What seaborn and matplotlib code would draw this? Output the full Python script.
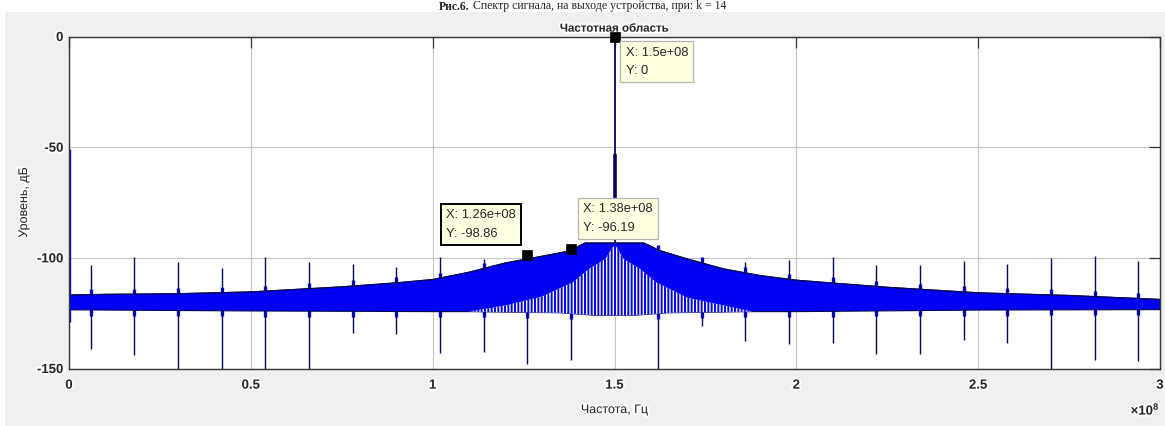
import numpy as np
import matplotlib
matplotlib.use("Agg")
import matplotlib.pyplot as plt
import seaborn as sns
from matplotlib.patches import Rectangle
from matplotlib import patheffects as pe
from matplotlib.ticker import FuncFormatter

HZ = 1e8  # frequencies below are given in units of 1e8 Hz

# Upper edge of the noise floor (frequency, level in dB)
floor_top_f = [0.00, 0.10, 0.30, 0.50, 0.75, 0.90, 1.00, 1.10, 1.20, 1.30, 1.38,
               1.41, 1.42, 1.58, 1.60, 1.62, 1.70, 1.80, 1.90, 2.00, 2.25, 2.50,
               2.75, 3.00]
floor_top_db = [-116.8, -116.5, -116.2, -115.4, -113.1, -111.3, -109.8, -106.5,
                -102.3, -99.3, -96.8, -94.0, -93.3, -93.3, -94.7, -96.5, -100.5,
                -105.0, -108.0, -110.1, -113.3, -115.8, -117.0, -118.8]

# Lower edge of the noise floor
floor_bot_f = [0.00, 0.50, 1.00, 1.10, 1.35, 1.45, 1.55, 1.65, 1.88, 2.00, 2.50, 3.00]
floor_bot_db = [-123.5, -124.0, -124.3, -124.3, -124.8, -126.0, -126.0, -124.8,
                -124.3, -124.3, -123.6, -123.4]

# Solid part of the floor around the carrier; below it the spectrum splits into a comb
comb_top_f = [1.10, 1.20, 1.30, 1.386, 1.43, 1.475, 1.495, 1.505, 1.525, 1.57,
              1.614, 1.70, 1.80, 1.88]
comb_top_db = [-124.3, -121.5, -117.5, -111.0, -105.0, -100.5, -95.0, -95.0,
               -100.5, -105.0, -111.0, -118.0, -121.5, -124.3]

# Spurious components
spur_f = [0.06, 0.18, 0.30, 0.42, 0.54, 0.66, 0.78, 0.90, 1.02, 1.14, 1.26, 1.38,
          1.62, 1.74, 1.86, 1.98, 2.10, 2.22, 2.34, 2.46, 2.58, 2.70, 2.82, 2.94]
spur_top_db = [-103.3, -99.5, -102.1, -104.5, -99.8, -101.8, -102.8, -104.1, -99.5,
               -100.5, -98.86, -96.19, -95.5, -100.0, -102.0, -100.8, -99.6, -103.3,
               -103.3, -101.5, -103.0, -100.0, -99.0, -101.5]
spur_bot_db = [-141.4, -144.0, -150.0, -150.0, -150.0, -150.0, -133.9, -134.2, -143.2,
               -142.6, -147.8, -146.3, -150.0, -130.7, -137.5, -139.0, -138.6, -143.6,
               -143.6, -137.0, -138.4, -150.0, -146.2, -146.5]

# Carrier and DC component
carrier_f = 1.5
carrier_db = 0.0
carrier_skirt_db = [-73.0, -53.0]
dc_f = 0.0
dc_db = [-129.0, -51.0]

# Data tips
tip_f = [1.5, 1.26, 1.38]
tip_db = [0.0, -98.86, -96.19]
tip_offset_px = [(11, -10), (-81, 46), (12, 46)]
tip_edge = ["#b4b4b4", "#000000", "#b4b4b4"]
tip_edge_lw = [0.9, 1.4, 0.9]

x_ticks = [0, 0.5, 1, 1.5, 2, 2.5, 3]
y_ticks = [-150, -100, -50, 0]

BLUE = "#0000f2"
NAVY = "#07075e"
PANEL = "#f0f0f0"

sns.set_style("white")
plt.rcParams["font.family"] = ["Liberation Sans", "DejaVu Sans"]
plt.rcParams["axes.unicode_minus"] = False
plt.rcParams["hatch.linewidth"] = 1.4
plt.rcParams["mathtext.fontset"] = "custom"
plt.rcParams["mathtext.rm"] = "Liberation Sans"
plt.rcParams["mathtext.bf"] = "Liberation Sans:bold"

W, H = 1165, 426
fig = plt.figure(figsize=(W / 100, H / 100), dpi=100)
fig.patch.set_facecolor("white")
fig.add_artist(Rectangle((5 / W, 0), 1, (H - 12) / H, transform=fig.transFigure,
                         facecolor=PANEL, edgecolor="none", zorder=0))

ax = fig.add_axes([69 / W, (H - 368.5) / H, (1160 - 69) / W, (368.5 - 36.5) / H])
ax.set_facecolor("white")

halo = [pe.withStroke(linewidth=3, foreground="white", alpha=0.9)]

# noise floor
top_x = np.array(floor_top_f) * HZ
bot_x = np.array(floor_bot_f) * HZ
ax.fill(np.concatenate([top_x, bot_x[::-1]]),
        np.concatenate([floor_top_db, floor_bot_db[::-1]]),
        facecolor=BLUE, edgecolor=NAVY, linewidth=0.8, zorder=3)
sns.lineplot(x=top_x, y=floor_top_db, ax=ax, color=NAVY, linewidth=0.8,
             sort=False, estimator=None, zorder=4)

# comb below the carrier region
bf = np.array(floor_bot_f)
bd = np.array(floor_bot_db)
sel = (bf >= comb_top_f[0]) & (bf <= comb_top_f[-1])
comb_x = np.concatenate([np.array(comb_top_f), bf[sel][::-1]]) * HZ
comb_y = np.concatenate([np.array(comb_top_db), bd[sel][::-1]])
ax.fill(comb_x, comb_y, facecolor="white", edgecolor=BLUE, hatch="|||||",
        linewidth=0, zorder=3.5)

# spurs: drawn above and below the floor, with a small widening at the floor edges
sx = np.array(spur_f) * HZ
floor_top_at = np.interp(spur_f, floor_top_f, floor_top_db)
floor_bot_at = np.interp(spur_f, floor_bot_f, floor_bot_db)
ax.vlines(sx, floor_bot_at - 2.5, floor_top_at + 2.5, colors=BLUE, linewidth=2.4,
          zorder=2.9)
ax.vlines(sx, floor_top_at, spur_top_db, colors=NAVY, linewidth=1.0, zorder=5)
ax.vlines(sx, spur_bot_db, floor_bot_at, colors=NAVY, linewidth=1.0, zorder=5)

# carrier and DC line
ax.vlines(carrier_f * HZ, floor_top_db[12], carrier_db, colors=NAVY, linewidth=1.3, zorder=6)
ax.vlines(carrier_f * HZ, carrier_skirt_db[0], carrier_skirt_db[1], colors=NAVY,
          linewidth=2.6, zorder=6)
ax.vlines(dc_f * HZ, dc_db[0], dc_db[1], colors=BLUE, linewidth=2.4, zorder=6)

# data tips
sns.scatterplot(x=np.array(tip_f) * HZ, y=tip_db, ax=ax, marker="s", s=42,
                color="black", edgecolor="black", linewidth=0.5, zorder=10,
                clip_on=False, legend=False)
for f, db, off, ec, lw in zip(tip_f, tip_db, tip_offset_px, tip_edge, tip_edge_lw):
    ax.annotate(f"X: {f * HZ:.3g}\nY: {db:g}", xy=(f * HZ, db), xytext=off,
                textcoords="offset pixels", ha="left", va="top", fontsize=9.3,
                linespacing=1.75, zorder=11, annotation_clip=False,
                bbox=dict(boxstyle="square,pad=0.4", facecolor="#ffffe1",
                          edgecolor=ec, linewidth=lw))

# axes
ax.set_xlim(0, 3 * HZ)
ax.set_ylim(-150, 0)
ax.set_xticks(np.array(x_ticks) * HZ)
ax.set_yticks(y_ticks)
ax.xaxis.set_major_formatter(FuncFormatter(lambda v, p: f"{v / HZ:g}"))
ax.grid(True, color="#c4c4c4", linewidth=0.8)
ax.set_axisbelow(True)
ax.tick_params(direction="in", length=8, width=0.9, color="#333333",
               top=True, right=True, labelsize=9.5)
ax.tick_params(axis="x", pad=8)
ax.tick_params(axis="y", pad=4)
for lab in ax.get_xticklabels() + ax.get_yticklabels():
    lab.set_fontweight("bold")
    lab.set_path_effects(halo)
for s in ax.spines.values():
    s.set_color("#333333")
    s.set_linewidth(1.0)
    s.set_zorder(7)

ax.set_xlabel("Частота, Гц", fontsize=9, labelpad=9, path_effects=halo)
ax.set_ylabel("Уровень, дБ", fontsize=9, labelpad=5, path_effects=halo)
ax.set_title("Частотная область", fontsize=8.3, fontweight="bold", pad=3.5,
             path_effects=halo)
ax.text(1.0, -0.125, r"$\mathbf{\times10^{8}}$", transform=ax.transAxes, ha="right",
        va="center", fontsize=9.5, path_effects=halo)

# figure caption
cap_x = 0.5 * (318 + 848) / W
fig.text(cap_x - 114 / W, 1 - 9.5 / H, "Рис.6.", family="Liberation Serif",
         fontweight="bold", fontsize=8.5, va="baseline", ha="right")
fig.text(cap_x - 110 / W, 1 - 9.5 / H,
         "Спектр сигнала, на выходе устройства, при: k = 14",
         family="Liberation Serif", fontsize=8.5, va="baseline", ha="left")

fig.savefig("out.png", dpi=100, facecolor=fig.get_facecolor())
